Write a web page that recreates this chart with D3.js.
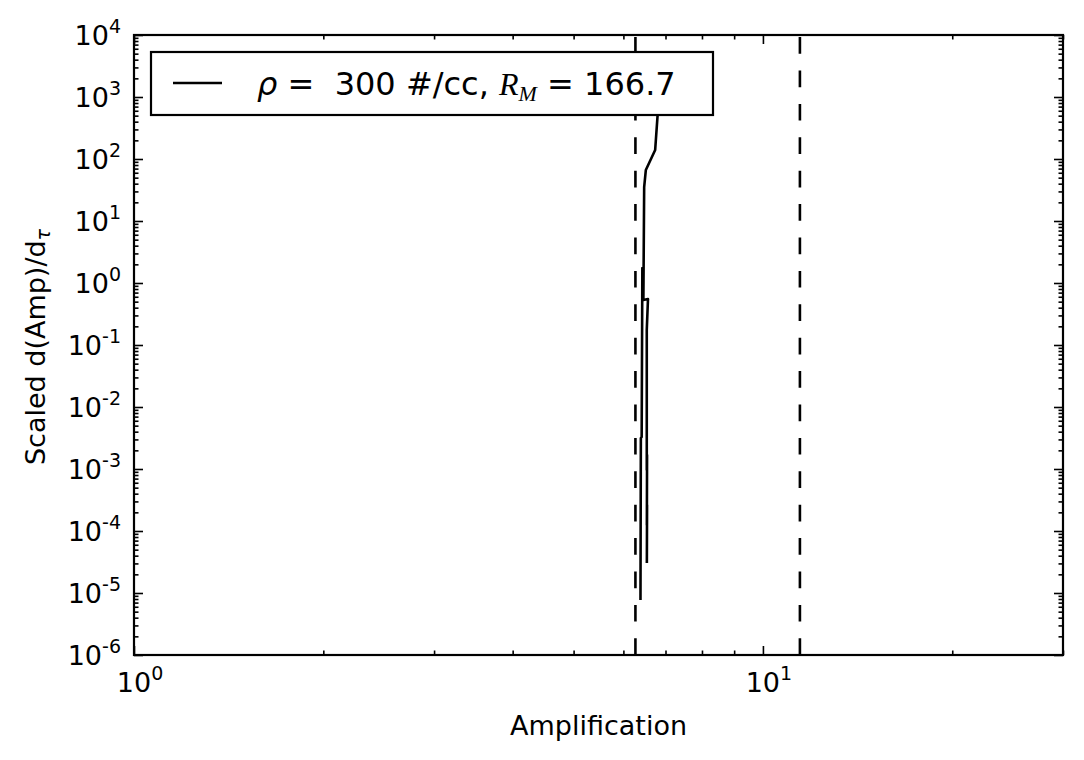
<!DOCTYPE html>
<meta charset="utf-8">
<style>
  body { margin: 0; background: #fff; }
  text { font-family: "DejaVu Sans", sans-serif; fill: #000; }
  .tick line { stroke: #000; stroke-width: 1.6px; }
  .domain { display: none; }
</style>
<svg width="1084" height="760"></svg>
<script src="https://d3js.org/d3.v7.min.js"></script>
<script>

// curve (amplification, scaled rate); null = gap
var ampValues  = [6.839, 6.797, 6.740, 6.514, 6.474, 6.462, 6.455, 6.565, 6.536, 6.536, 6.543, 6.538, 6.543, 6.538,
                  6.387, 6.387, 6.396, 6.415, 6.431, 6.455];
var rateValues = [1077, 475, 139.7, 66.5, 35.3, 2.35, 0.53, 0.55, 0.175, 9.6e-4, 1.68e-3, 1.25e-4, 2.62e-4, 3.05e-5,
                  null, 7.71e-6, 3.16e-3, 3.28e-3, 1.746, 1.1];
var refLines = [6.27, 11.45];
var xTickExps = [0, 1];
var yTickExps = [4, 3, 2, 1, 0, -1, -2, -3, -4, -5, -6];
var xLabel = "Amplification";
var legendRho = "300 #/cc, ";
var legendRM = "166.7";

var svg = d3.select("svg"),
    margin = {top: 35, right: 21, bottom: 105, left: 134},
    width = +svg.attr("width") - margin.left - margin.right,
    height = +svg.attr("height") - margin.top - margin.bottom,
    g = svg.append("g").attr("transform", "translate(" + margin.left + "," + margin.top + ")");

var x = d3.scaleLog().domain([1, 30]).range([0, width]);
var y = d3.scaleLog().domain([1e-6, 1e4]).range([height, 0]);

var data = ampValues.map(function(a, i) { return {amp: a, rate: rateValues[i]}; });

// minor ticks
var xMinor = [], yMinor = [];
[1, 10].forEach(function(b) {
  for (var k = 2; k <= 9; k++) if (b * k <= 30) xMinor.push(b * k);
});
yTickExps.forEach(function(e) {
  if (e === 4) return;
  for (var k = 2; k <= 9; k++) yMinor.push(k * Math.pow(10, e));
});
var xMajor = xTickExps.map(function(e) { return Math.pow(10, e); });
var yMajor = yTickExps.map(function(e) { return Math.pow(10, e); });

function noLabel() { return ""; }

g.append("g").attr("transform", "translate(0," + height + ")")
    .call(d3.axisBottom(x).tickValues(xMajor).tickSize(-9).tickFormat(noLabel));
g.append("g").attr("transform", "translate(0," + height + ")")
    .call(d3.axisBottom(x).tickValues(xMinor).tickSize(-4.5).tickFormat(noLabel));
g.append("g")
    .call(d3.axisTop(x).tickValues(xMajor).tickSize(-9).tickFormat(noLabel));
g.append("g")
    .call(d3.axisTop(x).tickValues(xMinor).tickSize(-4.5).tickFormat(noLabel));
g.append("g")
    .call(d3.axisLeft(y).tickValues(yMajor).tickSize(-9).tickFormat(noLabel));
g.append("g")
    .call(d3.axisLeft(y).tickValues(yMinor).tickSize(-4.5).tickFormat(noLabel));
g.append("g").attr("transform", "translate(" + width + ",0)")
    .call(d3.axisRight(y).tickValues(yMajor).tickSize(-9).tickFormat(noLabel));
g.append("g").attr("transform", "translate(" + width + ",0)")
    .call(d3.axisRight(y).tickValues(yMinor).tickSize(-4.5).tickFormat(noLabel));

// tick labels with superscripts
function powLabel(sel, e) {
  sel.append("tspan").text("10");
  sel.append("tspan").attr("dy", -12).attr("font-size", 19).text(e < 0 ? "-" + (-e) : e);
}
xTickExps.forEach(function(e) {
  var t = g.append("text")
      .attr("x", x(Math.pow(10, e)) + 6)
      .attr("y", height + 37)
      .attr("text-anchor", "middle")
      .attr("font-size", 27);
  powLabel(t, e);
});
yTickExps.forEach(function(e) {
  var t = g.append("text")
      .attr("x", -13)
      .attr("y", y(Math.pow(10, e)) + 10)
      .attr("text-anchor", "end")
      .attr("font-size", 27);
  powLabel(t, e);
});

// reference lines
var clip = g.append("clipPath").attr("id", "clip")
  .append("rect").attr("width", width).attr("height", height);

g.selectAll(".ref")
  .data(refLines)
  .enter().append("line")
    .attr("class", "ref")
    .attr("x1", function(d) { return x(d); })
    .attr("x2", function(d) { return x(d); })
    .attr("y1", height)
    .attr("y2", 0)
    .attr("stroke", "#000")
    .attr("stroke-width", 2.6)
    .attr("stroke-dasharray", "16.7,16.7");

var line = d3.line()
    .defined(function(d) { return d.rate != null; })
    .x(function(d) { return x(d.amp); })
    .y(function(d) { return y(d.rate); });

g.append("path")
    .datum(data)
    .attr("clip-path", "url(#clip)")
    .attr("fill", "none")
    .attr("stroke", "#000")
    .attr("stroke-width", 2.6)
    .attr("stroke-linejoin", "round")
    .attr("d", line);

// frame
g.append("rect")
    .attr("width", width)
    .attr("height", height)
    .attr("fill", "none")
    .attr("stroke", "#000")
    .attr("stroke-width", 2.2);

// axis labels
svg.append("text")
    .attr("x", margin.left + width / 2)
    .attr("y", 735)
    .attr("text-anchor", "middle")
    .attr("font-size", 27)
    .text(xLabel);

var yl = svg.append("text")
    .attr("transform", "translate(45,347) rotate(-90)")
    .attr("text-anchor", "middle")
    .attr("font-size", 27);
yl.append("tspan").text("Scaled d(Amp)/d");
yl.append("tspan").attr("font-style", "italic").attr("font-size", 19).attr("dy", 5).text("\u03C4");

// legend
var lg = g.append("g").attr("transform", "translate(17,17)");
lg.append("rect")
    .attr("width", 562)
    .attr("height", 63)
    .attr("fill", "#fff")
    .attr("stroke", "#000")
    .attr("stroke-width", 2.2);
lg.append("line")
    .attr("x1", 22).attr("x2", 71)
    .attr("y1", 31).attr("y2", 31)
    .attr("stroke", "#000")
    .attr("stroke-width", 2.4);
var lt = lg.append("text")
    .attr("x", 106)
    .attr("y", 43)
    .attr("font-size", 32)
    .attr("xml:space", "preserve");
lt.append("tspan").attr("font-style", "italic").text("\u03C1");
lt.append("tspan").text(" =  " + legendRho);
lt.append("tspan").attr("font-family", "Liberation Serif").attr("font-style", "italic").text("R");
lt.append("tspan").attr("font-family", "Liberation Serif").attr("font-style", "italic")
    .attr("font-size", 22).attr("dy", 6).text("M");
lt.append("tspan").attr("dy", -6).text(" = " + legendRM);

</script>
